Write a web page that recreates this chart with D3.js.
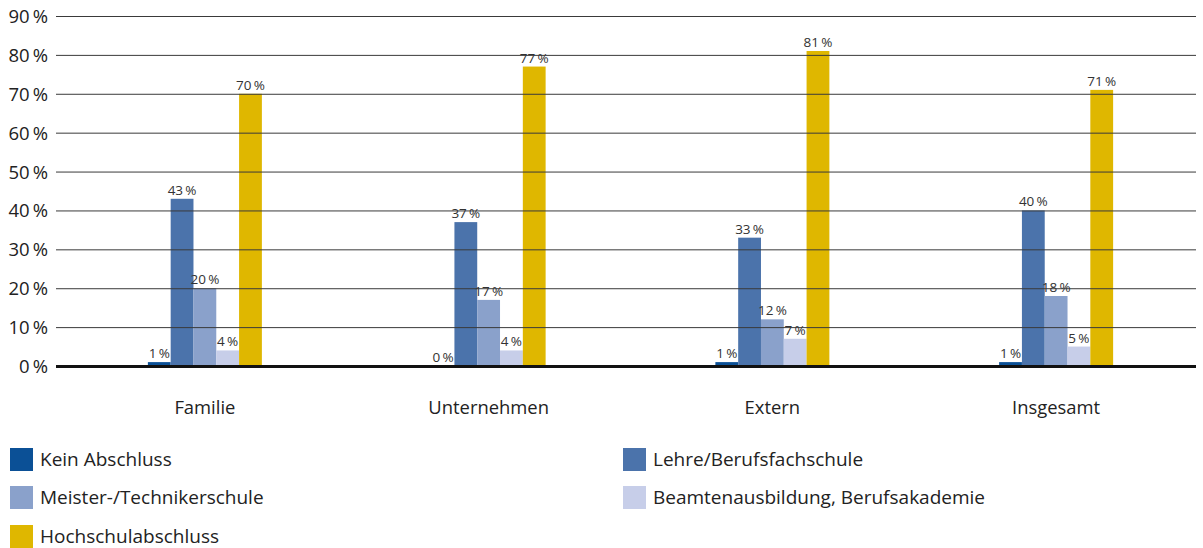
<!DOCTYPE html>
<html>
<head>
<meta charset="utf-8">
<script src="https://cdn.jsdelivr.net/npm/d3@7"></script>
<style>
  body { margin: 0; background: #fff; }
  svg text { font-family: "Open Sans", sans-serif; fill: #222; }
</style>
</head>
<body>
<div id="chart"></div>
<script>
var categories = ["Familie", "Unternehmen", "Extern", "Insgesamt"];
var seriesNames = ["Kein Abschluss", "Lehre/Berufsfachschule", "Meister-/Technikerschule", "Beamtenausbildung, Berufsakademie", "Hochschulabschluss"];
var keinAbschluss = [1, 0, 1, 1];
var lehre = [43, 37, 33, 40];
var meister = [20, 17, 12, 18];
var beamten = [4, 4, 7, 5];
var hochschule = [70, 77, 81, 71];
var yTicks = [0, 10, 20, 30, 40, 50, 60, 70, 80, 90];
var colors = ["#0b5096", "#4b73ab", "#8aa1cb", "#c7cee9", "#dfb700"];

var W = 1203, H = 548;
var allSeries = [keinAbschluss, lehre, meister, beamten, hochschule];

var svg = d3.select("#chart").append("svg")
  .attr("width", W)
  .attr("height", H);

var y = d3.scaleLinear()
  .domain([0, 90])
  .range([366, 16]);

var x0 = d3.scaleBand()
  .domain(categories)
  .range([63, 1198])
  .padding(0);

var groupW = 114;
var x1 = d3.scaleBand()
  .domain(d3.range(seriesNames.length))
  .range([0, groupW]);

var groups = svg.append("g").selectAll("g")
  .data(categories)
  .join("g")
    .attr("transform", d => `translate(${x0(d) + (x0.bandwidth() - groupW) / 2},0)`);

groups.selectAll("rect")
  .data((c, ci) => allSeries.map((s, si) => ({si: si, v: s[ci]})))
  .join("rect")
    .attr("x", d => x1(d.si))
    .attr("width", x1.bandwidth())
    .attr("y", d => y(d.v))
    .attr("height", d => y(0) - y(d.v))
    .attr("fill", d => colors[d.si]);

// gridlines over the bars
svg.append("g").selectAll("line")
  .data(yTicks.filter(t => t > 0))
  .join("line")
    .attr("x1", 56)
    .attr("x2", 1196)
    .attr("y1", d => y(d) + 0.5)
    .attr("y2", d => y(d) + 0.5)
    .attr("stroke", "#3a3a3a")
    .attr("stroke-width", 1);

svg.append("line")
  .attr("x1", 56).attr("x2", 1196)
  .attr("y1", y(0) + 0.5).attr("y2", y(0) + 0.5)
  .attr("stroke", "#111")
  .attr("stroke-width", 3);

// y labels
svg.append("g").selectAll("text")
  .data(yTicks)
  .join("text")
    .attr("x", 48)
    .attr("y", d => y(d) + 7)
    .attr("text-anchor", "end")
    .style("font-size", "18.5px")
    .text(d => d + "\u2009%");

// value labels
groups.selectAll("text.val")
  .data((c, ci) => allSeries.map((s, si) => ({si: si, v: s[ci]})))
  .join("text")
    .attr("class", "val")
    .attr("x", d => x1(d.si) + x1.bandwidth() / 2)
    .attr("y", d => y(d.v) - 4)
    .attr("text-anchor", "middle")
    .style("font-size", "13.5px")
    .style("fill", "#333")
    .text(d => d.v + "\u2009%");

// category labels
svg.append("g").selectAll("text")
  .data(categories)
  .join("text")
    .attr("x", d => x0(d) + x0.bandwidth() / 2)
    .attr("y", 414)
    .attr("text-anchor", "middle")
    .style("font-size", "18.4px")
    .text(d => d);

// legend
var legendPos = [[10, 448], [623, 448], [10, 486], [623, 486], [10, 525]];
var legend = svg.append("g").selectAll("g")
  .data(seriesNames)
  .join("g")
    .attr("transform", (d, i) => `translate(${legendPos[i][0]},${legendPos[i][1]})`);

legend.append("rect")
  .attr("width", 23)
  .attr("height", 23)
  .attr("fill", (d, i) => colors[i]);

legend.append("text")
  .attr("x", 30)
  .attr("y", 18)
  .style("font-size", "19px")
  .text(d => d);
</script>
</body>
</html>
